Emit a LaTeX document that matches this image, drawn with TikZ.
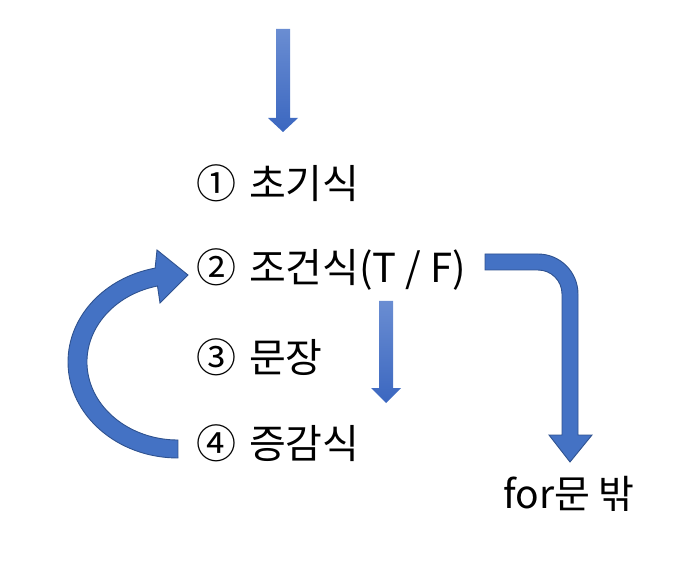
\documentclass[tikz,border=0pt]{standalone}
\usepackage{fontspec}
\newfontfamily\kr{Noto Sans CJK KR}
\definecolor{arrfill}{HTML}{4472C4}
\definecolor{arrline}{HTML}{2F528F}
\definecolor{arrtop}{HTML}{6A8DD2}
\definecolor{arrbot}{HTML}{3B67C0}
\tikzset{
  flatarrow/.style={fill=arrfill, draw=arrline, line width=0.9pt, line join=miter},
  gradarrow/.style={top color=arrtop, bottom color=arrbot, draw=none},
  lbl/.style={anchor=west, inner sep=0pt, font=\kr\fontsize{40}{44}\selectfont},
  lblsmall/.style={anchor=center, inner sep=0pt, font=\kr\fontsize{39}{44}\selectfont},
}
\begin{document}
\begin{tikzpicture}[x=1pt, y=-1pt]
\useasboundingbox (0,0) rectangle (696,561);
% labels
\node[lbl] (s1) at (196,183) {①\hspace{0.32em}초기식};
\node[lbl] (s2) at (196,270) {②\hspace{0.32em}조건식(T / F)};
\node[lbl] (s3) at (196,357) {③\hspace{0.32em}문장};
\node[lbl] (s4) at (196,443) {④\hspace{0.32em}증감식};
\node[lblsmall] (out) at (569,494) {for문 밖};
% top straight arrow
\path[gradarrow] (276,29) -- (290,29) -- (290,118) -- (298,118) -- (283,132) -- (268,118) -- (276,118) -- cycle;
% middle straight arrow
\path[gradarrow] (379,301) -- (393,301) -- (393,388) -- (401,388) -- (386,403) -- (371,388) -- (379,388) -- cycle;
% bent arrow to exit
\draw[flatarrow] (485,254) -- (538,254) arc[start angle=-90, end angle=0, radius=40] -- (578,435) -- (592,435) -- (570,462) -- (549,435) -- (562,435) -- (562,294) arc[start angle=0, end angle=-90, radius=24] -- (485,270) -- cycle;
% curved loop arrow
\draw[flatarrow] (178,458) arc[start angle=90, end angle=258, x radius=110, y radius=96]
  -- (157,250) -- (188,275) -- (160,303) -- (157.5,286)
  arc[start angle=257, end angle=90, x radius=91, y radius=78] -- cycle;
\end{tikzpicture}
\end{document}
